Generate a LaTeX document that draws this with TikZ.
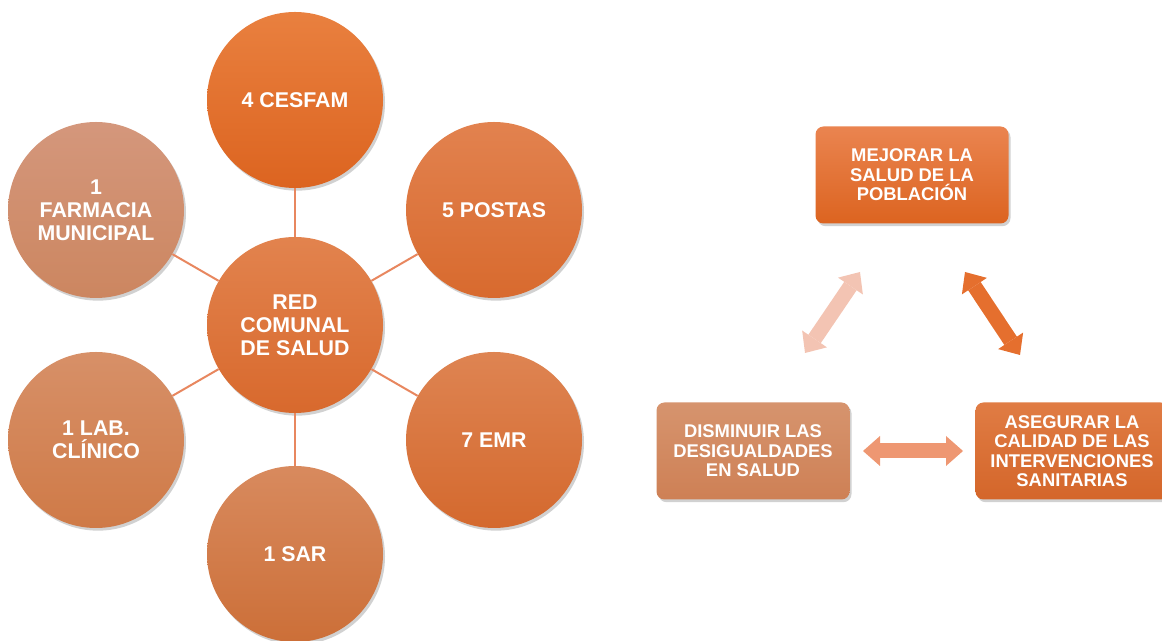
\documentclass[tikz,border=0pt]{standalone}
\usepackage{fontspec}
\setmainfont{Liberation Sans}
\usetikzlibrary{arrows.meta,shadows}

\definecolor{hubTop}{HTML}{E2834E}
\definecolor{hubBot}{HTML}{D8692D}
\definecolor{cesfamTop}{HTML}{E9803F}
\definecolor{cesfamBot}{HTML}{DC6420}
\definecolor{postasTop}{HTML}{E2824F}
\definecolor{postasBot}{HTML}{D86A2E}
\definecolor{emrTop}{HTML}{DE8452}
\definecolor{emrBot}{HTML}{D4692E}
\definecolor{sarTop}{HTML}{D88A5E}
\definecolor{sarBot}{HTML}{CC6F38}
\definecolor{labTop}{HTML}{D79068}
\definecolor{labBot}{HTML}{CF7A47}
\definecolor{farmTop}{HTML}{D4977C}
\definecolor{farmBot}{HTML}{CC8660}
\definecolor{spokeColor}{HTML}{E8875F}
\definecolor{mejTop}{HTML}{EA8450}
\definecolor{mejBot}{HTML}{DC6420}
\definecolor{disTop}{HTML}{D6946E}
\definecolor{disBot}{HTML}{CE8055}
\definecolor{aseTop}{HTML}{E07C44}
\definecolor{aseBot}{HTML}{D4662A}
\definecolor{arrowPale}{HTML}{F3C4B3}
\definecolor{arrowDeep}{HTML}{E56F2E}
\definecolor{arrowMid}{HTML}{EE9772}

\tikzset{
  bubble/.style={circle, minimum size=132pt, inner sep=0pt, align=center,
    text=white, font=\fontsize{16}{17.3}\selectfont\bfseries,
    drop shadow={shadow xshift=1.5pt, shadow yshift=-2pt, opacity=0.3, fill=black!60}},
  goalbox/.style={rectangle, rounded corners=6pt, minimum width=144.75pt,
    minimum height=72.75pt, inner sep=0pt, align=center,
    text=white, font=\fontsize{13.8}{14.6}\selectfont\bfseries,
    drop shadow={shadow xshift=1.5pt, shadow yshift=-2pt, opacity=0.3, fill=black!60}},
  spoke/.style={draw=spokeColor, line width=1.5pt},
  bothway/.style={line width=11.25pt,
    {Triangle[length=12.75pt,width=22.5pt,line width=0pt]}-{Triangle[length=12.75pt,width=22.5pt,line width=0pt]}},
}

\begin{document}
\begin{tikzpicture}
% one unit is one pixel of the 1162x641 layout
\def\pxsz{0.75pt}
\begin{scope}[x=\pxsz, y=\pxsz]
  \useasboundingbox (0,0) rectangle (1162,641);
  % Network of the communal health service
  \node[bubble, top color=hubTop, bottom color=hubBot] (hub) at (295,316) {RED\\COMUNAL\\DE SALUD};
  \node[bubble, top color=cesfamTop, bottom color=cesfamBot] (cesfam) at (295,541) {4 CESFAM};
  \node[bubble, top color=postasTop, bottom color=postasBot] (postas) at (494,431) {5 POSTAS};
  \node[bubble, top color=emrTop, bottom color=emrBot] (emr) at (494,201) {7 EMR};
  \node[bubble, top color=sarTop, bottom color=sarBot] (sar) at (295,87) {1 SAR};
  \node[bubble, top color=labTop, bottom color=labBot] (lab) at (96,201) {1 LAB.\\CLÍNICO};
  \node[bubble, top color=farmTop, bottom color=farmBot] (farm) at (96,431) {1\\FARMACIA\\MUNICIPAL};
  % Spokes
  \draw[spoke] (hub) -- (cesfam);
  \draw[spoke] (hub) -- (postas);
  \draw[spoke] (hub) -- (emr);
  \draw[spoke] (hub) -- (sar);
  \draw[spoke] (hub) -- (lab);
  \draw[spoke] (hub) -- (farm);
  % Goals
  \node[goalbox, top color=mejTop, bottom color=mejBot] (mej) at (912,466) {MEJORAR LA\\SALUD DE LA\\POBLACIÓN};
  \node[goalbox, top color=disTop, bottom color=disBot] (dis) at (753,190) {DISMINUIR LAS\\DESIGUALDADES\\EN SALUD};
  \node[goalbox, top color=aseTop, bottom color=aseBot] (ase) at (1072,190) {ASEGURAR LA\\CALIDAD DE LAS\\INTERVENCIONES\\SANITARIAS};
  % Two-way arrows between the goals
  \coordinate (disUp) at (805,288);
  \coordinate (mejLeft) at (860,369);
  \coordinate (mejRight) at (965,369);
  \coordinate (aseUp) at (1020,286);
  \coordinate (disRight) at (863,190);
  \coordinate (aseLeft) at (963,190);
  \draw[bothway, draw=arrowPale, fill=arrowPale] (disUp) -- (mejLeft);
  \draw[bothway, draw=arrowDeep, fill=arrowDeep] (mejRight) -- (aseUp);
  \draw[bothway, draw=arrowMid, fill=arrowMid] (disRight) -- (aseLeft);
\end{scope}
\end{tikzpicture}
\end{document}
